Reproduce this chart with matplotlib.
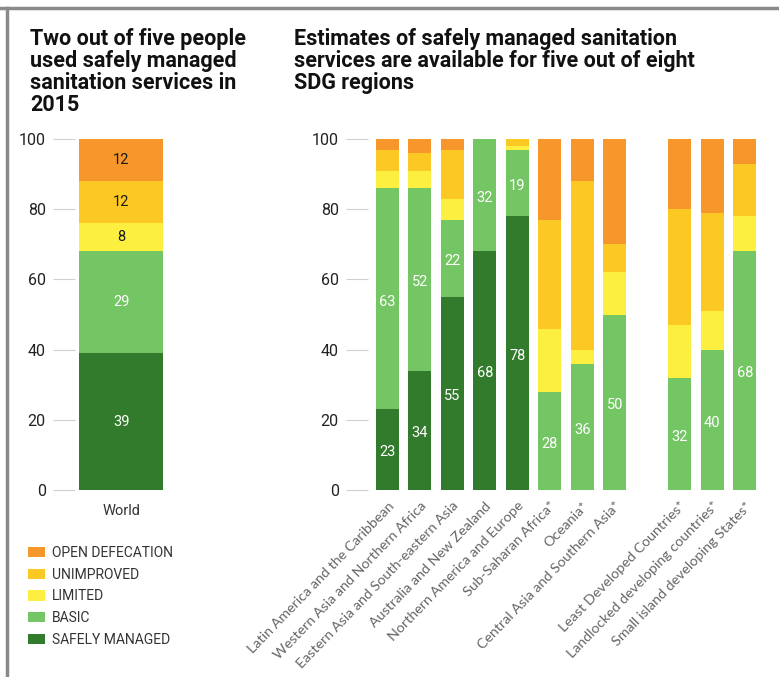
import numpy as np
import matplotlib
matplotlib.use('Agg')
import matplotlib.pyplot as plt
from matplotlib.lines import Line2D
from matplotlib.patches import Patch

plt.rcParams['font.family'] = ['Roboto', 'DejaVu Sans']

# ---- data ----
categories = ['OPEN DEFECATION', 'UNIMPROVED', 'LIMITED', 'BASIC', 'SAFELY MANAGED']
colors = ['#F6962B', '#FCC924', '#FDEF40', '#74C563', '#327B2C']

world_safely = 39
world_basic = 29
world_limited = 8
world_unimproved = 12
world_open = 12

regions = ['Latin America and the Caribbean', 'Western Asia and Northern Africa',
           'Eastern Asia and South-eastern Asia', 'Australia and New Zealand',
           'Northern America and Europe', 'Sub-Saharan Africa*', 'Oceania*',
           'Central Asia and Southern Asia*', 'Least Developed Countries*',
           'Landlocked developing countries*', 'Small island developing States*']
safely = [23, 34, 55, 68, 78, 0, 0, 0, 0, 0, 0]
basic = [63, 52, 22, 32, 19, 28, 36, 50, 32, 40, 68]
limited = [5, 5, 6, 0, 1, 18, 4, 12, 15, 11, 10]
unimproved = [6, 5, 14, 0, 2, 31, 48, 8, 33, 28, 15]
open_def = [3, 4, 3, 0, 0, 23, 12, 30, 20, 21, 7]

W, H = 779, 677
fig = plt.figure(figsize=(W / 100, H / 100), dpi=100)

def fx(px):
    return px / W

def fy(py):
    return 1 - py / H

# frame lines like the source
fig.add_artist(Line2D([0, 1], [fy(8), fy(8)], color='#8a8a8a', lw=2.5))
fig.add_artist(Line2D([fx(6.5), fx(6.5)], [0, fy(8)], color='#8a8a8a', lw=2.5))

y0, y100 = 490, 139
bottom = fy(y0)
height = fy(y100) - bottom

def style_axis(ax):
    for s in ax.spines.values():
        s.set_visible(False)
    ax.set_ylim(0, 100)
    ax.set_yticks([0, 20, 40, 60, 80, 100])
    ax.tick_params(axis='y', length=16, width=0.8, color='#d0d0d0', pad=5,
                   labelsize=11.5, labelcolor='#222222')
    ax.tick_params(axis='x', length=0)

# ---- left: World ----
axl = fig.add_axes([fx(75), bottom, fx(176) - fx(75), height])
style_axis(axl)
vals_w = [world_safely, world_basic, world_limited, world_unimproved, world_open]
cols_w = colors[::-1]
bot = 0
for v, c in zip(vals_w, cols_w):
    axl.bar(0, v, bottom=bot, width=1.0, color=c, edgecolor='none')
    tc = 'white' if c in (colors[3], colors[4]) else '#1a1a1a'
    axl.text(0, bot + v / 2, str(v), ha='center', va='center', color=tc, fontsize=10.5)
    bot += v
axl.set_xlim(-0.55, 0.65)
axl.set_xticks([0])
axl.set_xticklabels(['World'], fontsize=10.5, color='#333333')
axl.tick_params(axis='x', pad=10)

# ---- right: regions ----
axr = fig.add_axes([fx(368), bottom, fx(761) - fx(368), height])
style_axis(axr)
xpos = list(range(8)) + [9, 10, 11]
stack = [safely, basic, limited, unimproved, open_def]
bot = np.zeros(len(regions))
for vals, c in zip(stack, colors[::-1]):
    axr.bar(xpos, vals, bottom=bot, width=0.71, color=c, edgecolor='none')
    bot = bot + np.array(vals)
for x, s, b in zip(xpos, safely, basic):
    if s > 0:
        axr.text(x, s / 2 - 0.8, str(s), ha='center', va='center', color='white', fontsize=10.5)
    axr.text(x, s + b / 2 - 0.8, str(b), ha='center', va='center', color='white', fontsize=10.5)
axr.set_xlim(-0.6, 11.5)
axr.set_xticks(xpos)
axr.set_xticklabels(regions, rotation=46, ha='right', rotation_mode='anchor',
                    fontsize=10.3, color='#666666', family=['Lato', 'DejaVu Sans'])
axr.tick_params(axis='x', pad=7)

# ---- titles ----
fig.text(fx(30), fy(28), 'Two out of five people\nused safely managed\nsanitation services in\n2015',
         ha='left', va='top', fontsize=15.5, fontweight='bold', color='#111111',
         linespacing=1.0)
fig.text(fx(294), fy(28), 'Estimates of safely managed sanitation\nservices are available for five out of eight\nSDG regions',
         ha='left', va='top', fontsize=15.5, fontweight='bold', color='#111111',
         linespacing=1.0)

# ---- legend ----
handles = [Patch(facecolor=c, edgecolor='none') for c in colors]
fig.legend(handles, categories, loc='upper left', bbox_to_anchor=(fx(28), fy(546)),
           frameon=False, fontsize=10, handlelength=1.25, handleheight=0.75,
           labelspacing=0.55, handletextpad=0.5, borderpad=0, borderaxespad=0,
           labelcolor='#333333')

fig.savefig('out.png', dpi=100, facecolor='white')
